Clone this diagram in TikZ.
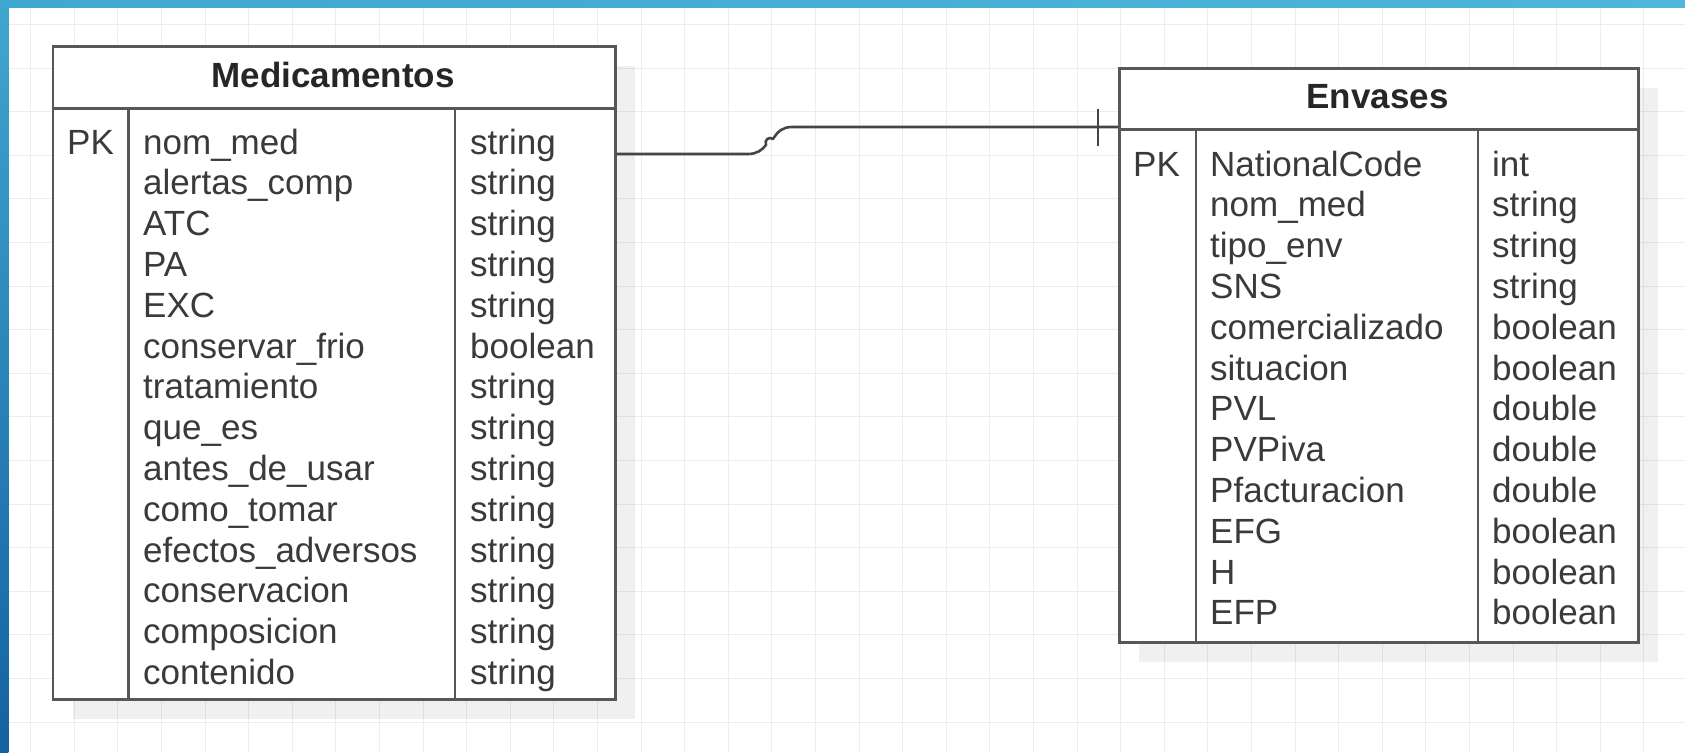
\documentclass[tikz,border=0pt]{standalone}
\usepackage{fontspec}
\setmainfont{Liberation Sans}
\usetikzlibrary{calc,shadows}

\definecolor{framecyan}{HTML}{40A7CF}
\definecolor{framecyanR}{HTML}{4DB6DA}
\definecolor{framedeep}{HTML}{1462A0}
\definecolor{gridline}{HTML}{EDEDED}
\definecolor{boxline}{HTML}{575757}
\definecolor{ink}{HTML}{3A3A3A}
\definecolor{linkline}{HTML}{454545}

\tikzset{
  tablebox/.style={draw=boxline, line width=2.6pt, fill=white, inner sep=0pt,
    anchor=north west,
    drop shadow={shadow xshift=20pt, shadow yshift=-20pt, fill=black, opacity=0.06}},
  tablerule/.style={draw=boxline, line width=2.6pt},
  fieldtext/.style={anchor=base west, inner sep=0pt, text=ink,
    font=\fontsize{35}{40}\selectfont},
  titletext/.style={anchor=base, inner sep=0pt, text=black!85,
    font=\fontsize{35}{40}\selectfont\bfseries},
  link/.style={draw=linkline, line width=2.6pt},
}

\begin{document}
\begin{tikzpicture}[x=1pt, y=-1pt]
  % page and background
  \fill[white] (0,0) rectangle (1685,752);
  \useasboundingbox (0,0) rectangle (1685,752);

  % background grid
  \begin{scope}
    \clip (8.3,7.5) rectangle (1685,752);
    \foreach \k in {0,...,38}
      \draw[gridline, line width=1pt] ({30.7+43.6*\k},0) -- ({30.7+43.6*\k},752);
    \foreach \k in {0,...,17}
      \draw[gridline, line width=1pt] (0,{24.4+43.6*\k}) -- (1685,{24.4+43.6*\k});
  \end{scope}

  % blue frame along the top and left edges
  \shade[left color=framecyan, right color=framecyanR] (0,0) rectangle (1685,7.5);
  \shade[top color=framecyan, bottom color=framedeep] (0,0) rectangle (8.3,752);

  % ---------------- Medicamentos ----------------
  \node[tablebox, minimum width=562.3pt, minimum height=653pt] (med) at (51.7,45) {};
  \draw[tablerule] (med.west |- 0,108.3) -- (med.east |- 0,108.3);
  \draw[tablerule] (128.3,108.3) -- (med.south -| 128.3,0);
  \draw[tablerule] (455,108.3) -- (med.south -| 455,0);
  \node[titletext] (medtitle) at (333,87) {Medicamentos};
  \node[fieldtext] (medpk) at (67,154) {PK};
  \foreach \fname/\ftype [count=\i from 0] in {
      nom\_med/string, alertas\_comp/string, ATC/string, PA/string,
      EXC/string, conservar\_frio/boolean, tratamiento/string,
      que\_es/string, antes\_de\_usar/string, como\_tomar/string,
      efectos\_adversos/string, conservacion/string,
      composicion/string, contenido/string} {
    \node[fieldtext] (medf\i) at (143,{154+40.8*\i}) {\fname};
    \node[fieldtext] (medt\i) at (470,{154+40.8*\i}) {\ftype};
  }

  % ---------------- Envases ----------------
  \node[tablebox, minimum width=519pt, minimum height=574pt] (env) at (1118,67) {};
  \draw[tablerule] (env.west |- 0,129.5) -- (env.east |- 0,129.5);
  \draw[tablerule] (1196,129.5) -- (env.south -| 1196,0);
  \draw[tablerule] (1478,129.5) -- (env.south -| 1478,0);
  \node[titletext] (envtitle) at (1377.5,108.5) {Envases};
  \node[fieldtext] (envpk) at (1133,176) {PK};
  \foreach \fname/\ftype [count=\i from 0] in {
      NationalCode/int, nom\_med/string, tipo\_env/string, SNS/string,
      comercializado/boolean, situacion/boolean, PVL/double,
      PVPiva/double, Pfacturacion/double, EFG/boolean, H/boolean,
      EFP/boolean} {
    \node[fieldtext] (envf\i) at (1210,{176+40.8*\i}) {\fname};
    \node[fieldtext] (envt\i) at (1492,{176+40.8*\i}) {\ftype};
  }

  % ---------------- relationship ----------------
  \coordinate (medport) at (med.east |- 0,154);
  \coordinate (envport) at (env.west |- 0,127);
  \draw[link, line join=round]
    (medport) -- (748,154)
    .. controls (757,154) and (762,150) .. (766,145)
    .. controls (764,140) and (769,136) .. (773,139)
    .. controls (778,131) and (783,127) .. (792,127)
    -- (envport);
  % "one" mark near the Envases end
  \draw[link] ($(envport)+(-20,-18.5)$) -- ($(envport)+(-20,18.5)$);
\end{tikzpicture}
\end{document}
